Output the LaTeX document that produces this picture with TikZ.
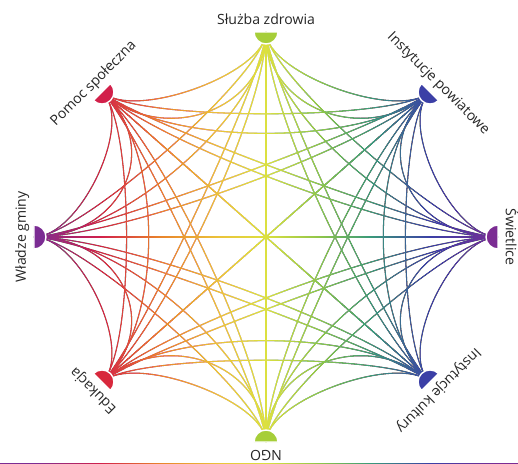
\documentclass[tikz,border=0pt]{standalone}
\usepackage{fontspec}
\newfontfamily\etykieta{Open Sans}
\usetikzlibrary{calc}
\definecolor{zdrowie}{HTML}{A6CE39}
\definecolor{powiat}{HTML}{3B3FA6}
\definecolor{fiolet}{HTML}{7B2C93}
\definecolor{pomoc}{HTML}{D2204A}
\definecolor{eduk}{HTML}{D8283C}
\definecolor{pomarancz}{HTML}{E9832B}
\definecolor{zloty}{HTML}{EBC43A}
\definecolor{zolty}{HTML}{DCE040}
\definecolor{jzielony}{HTML}{8EC54A}
\definecolor{morski}{HTML}{3A9A7A}
\pgfdeclarehorizontalshading{teczowy}{100bp}{color(0bp)=(fiolet); color(28.4bp)=(fiolet);
    color(34.7bp)=(pomoc); color(40.4bp)=(pomarancz); color(46.2bp)=(zloty);
    color(50.6bp)=(zolty); color(55.9bp)=(jzielony); color(60.7bp)=(morski);
    color(66.5bp)=(powiat); color(73.3bp)=(fiolet); color(100bp)=(fiolet)}

\begin{document}
\begin{tikzpicture}[scale=0.03,
    wiazka/.style={line width=0.9pt, black},
    polkole/.style={draw=white, line width=1.2pt},
    etyk/.style={font=\etykieta\fontsize{12}{14}\selectfont, text=black!85, anchor=base, inner sep=0pt}]
    \useasboundingbox (-266,-226) rectangle (252,237);
    \fill[white] (-266,-226) rectangle (252,237);

    \coordinate (s) at (0,0);
    \foreach \i in {0,...,7} {
        \pgfmathsetmacro\kat{90-45*\i}
        \coordinate (w\i) at ({232*cos(\kat)},{205*sin(\kat)});
    }

    % polaczenia
    \foreach \i in {0,...,6} {
        \pgfmathtruncatemacro\nast{\i+1}
        \foreach \j in {\nast,...,7} {
            \draw[wiazka] (w\i) .. controls ($(s)!0.8!(w\i)$) and ($(s)!0.8!(w\j)$) .. (w\j);
            \draw[wiazka] (w\i) .. controls ($(s)!0.62!(w\i)$) and ($(s)!0.62!(w\j)$) .. (w\j);
        }
    }
    \draw[wiazka, line width=1.4pt] (w2) -- (w6);
    \begin{scope}[blend mode=lighten]
        \shade[shading=teczowy] (-266,-226) rectangle (252,237);
    \end{scope}

    % wezly
    \foreach \i/\tekst/\kolor in {0/Służba zdrowia/zdrowie, 1/Instytucje powiatowe/powiat,
        2/Świetlice/fiolet, 3/Instytucje kultury/powiat, 4/NGO/zdrowie,
        5/Edukacja/eduk, 6/Władze gminy/fiolet, 7/Pomoc społeczna/pomoc} {
        \pgfmathsetmacro\kat{90-45*\i}
        \begin{scope}[shift={({232*cos(\kat)},{205*sin(\kat)})}, rotate=\kat]
            \filldraw[polkole, fill=\kolor] (0,12) arc[start angle=90, end angle=270, radius=12] -- cycle;
        \end{scope}
        \node[etyk, rotate=\kat-90] (e\i) at ({240*cos(\kat)},{213*sin(\kat)}) {\tekst};
    }
\end{tikzpicture}
\end{document}
